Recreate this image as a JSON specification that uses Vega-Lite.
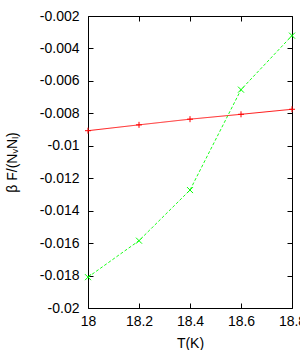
{
  "$schema": "https://vega.github.io/schema/vega-lite/v6.json",
  "autosize": {"type": "none"},
  "width": 204,
  "height": 292,
  "padding": {"left": 88, "top": 16, "right": 8, "bottom": 42},
  "background": "white",
  "config": {
    "font": "Liberation Sans",
    "view": {"stroke": "black", "strokeWidth": 1},
    "axis": {
      "grid": false,
      "domainColor": "black",
      "tickColor": "black",
      "labelColor": "black",
      "titleColor": "black",
      "labelFont": "Liberation Sans",
      "titleFont": "Liberation Sans",
      "labelFontSize": 14,
      "titleFontSize": 14,
      "titleFontWeight": "normal",
      "labelFlush": false,
      "labelOverlap": false,
      "tickSize": -5
    }
  },
  "data": {
    "values": [
      {"T": 18.0, "v": -0.00907, "series": "a"},
      {"T": 18.2, "v": -0.00871, "series": "a"},
      {"T": 18.4, "v": -0.00836, "series": "a"},
      {"T": 18.6, "v": -0.00806, "series": "a"},
      {"T": 18.8, "v": -0.00775, "series": "a"},
      {"T": 18.0, "v": -0.0181, "series": "b"},
      {"T": 18.2, "v": -0.01585, "series": "b"},
      {"T": 18.4, "v": -0.01273, "series": "b"},
      {"T": 18.6, "v": -0.00654, "series": "b"},
      {"T": 18.8, "v": -0.00321, "series": "b"}
    ]
  },
  "encoding": {
    "x": {"field": "T", "type": "quantitative", "scale": {"domain": [18, 18.8], "nice": false, "zero": false}},
    "y": {"field": "v", "type": "quantitative", "scale": {"domain": [-0.02, -0.002], "nice": false, "zero": false}},
    "color": {"field": "series", "type": "nominal", "scale": {"domain": ["a", "b"], "range": ["#ff0000", "#00ff00"]}, "legend": null}
  },
  "layer": [
    {
      "mark": {"type": "line", "strokeWidth": 0.9},
      "encoding": {
        "x": {"field": "T", "type": "quantitative", "axis": {"orient": "bottom", "title": "T(K)", "values": [18, 18.2, 18.4, 18.6, 18.8], "labelExpr": "'' + datum.value", "labelPadding": 11, "titlePadding": 8, "domain": false}},
        "y": {"field": "v", "type": "quantitative", "axis": {"orient": "left", "title": "β F/(NᵥNₗ)", "values": [-0.02, -0.018, -0.016, -0.014, -0.012, -0.01, -0.008, -0.006, -0.004, -0.002], "labelExpr": "'' + datum.value", "labelPadding": 14, "titlePadding": 20, "domain": false}},
        "strokeDash": {"field": "series", "type": "nominal", "scale": {"domain": ["a", "b"], "range": [[1, 0], [3, 2]]}, "legend": null}
      }
    },
    {
      "mark": {"type": "point", "filled": false, "strokeWidth": 1, "size": 36, "opacity": 1},
      "encoding": {
        "x": {"field": "T", "type": "quantitative", "axis": {"orient": "top", "title": null, "labels": false, "values": [18, 18.2, 18.4, 18.6, 18.8], "domain": false}},
        "y": {"field": "v", "type": "quantitative", "axis": {"orient": "right", "title": null, "labels": false, "values": [-0.02, -0.018, -0.016, -0.014, -0.012, -0.01, -0.008, -0.006, -0.004, -0.002], "domain": false}},
        "shape": {"field": "series", "type": "nominal", "scale": {"domain": ["a", "b"], "range": ["M-1,0L1,0M0,-1L0,1", "M-1,-1L1,1M-1,1L1,-1"]}, "legend": null}
      }
    }
  ]
}
